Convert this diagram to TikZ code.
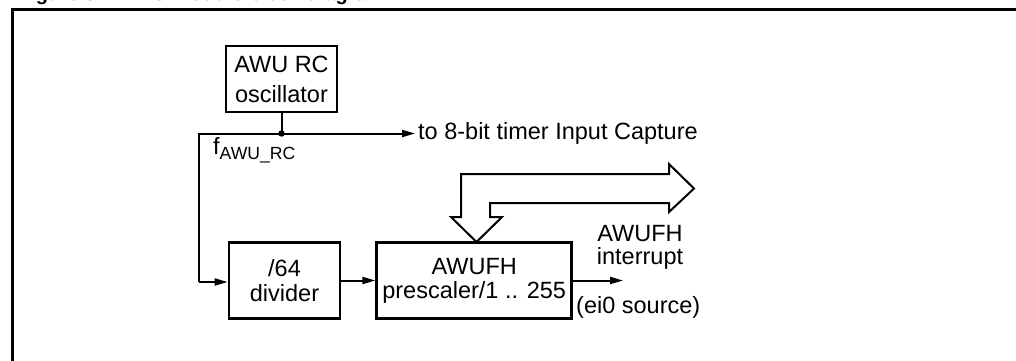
\documentclass[tikz,border=0pt]{standalone}
\usepackage{fontspec}
\setmainfont{Liberation Sans}
\usetikzlibrary{arrows.meta}
\tikzset{
  box/.style={draw, line width=2.6pt, inner sep=0pt, align=center},
  conn/.style={line width=2pt},
  arr/.style={line width=2pt, -{Triangle[length=13pt,width=7pt]}},
  lbl/.style={inner sep=0pt, align=center},
}
\begin{document}
\begin{tikzpicture}[x=1pt,y=-1pt]
\useasboundingbox (0,0) rectangle (1016,360);
\clip (0,0) rectangle (1016,360);
% cut-off caption
\node[inner sep=0pt, anchor=base west, font=\fontsize{20}{24}\selectfont\bfseries] (title) at (18,0.8) {Figure 37. AWU module block diagram};
% frame
\draw[line width=3pt] (12,370) -- (12,9) -- (1030,9);
% boxes
\node[box, minimum width=111pt, minimum height=66pt, font=\fontsize{23.5}{30}\selectfont] (osc) at (281.5,79)
  {AWU RC\\oscillator};
\node[box, minimum width=111pt, minimum height=75.6pt, font=\fontsize{23.5}{25.6}\selectfont] (div) at (284.5,280.5)
  {/64\\divider};
\node[box, minimum width=195pt, minimum height=75.6pt, font=\fontsize{23.5}{24}\selectfont] (pre) at (474.2,280.5)
  {AWUFH\\prescaler/1 .. 255};
% junction and wires
\coordinate (j) at (281.5,133.5);
\coordinate (c1) at (198.5,133.5);
\coordinate (c2) at (198.5,282);
\coordinate (ictip) at (415,133.5);
\coordinate (outtip) at (623,280.5);
\draw[conn] (osc.south) -- (j);
\draw[arr] (j) -- (ictip);
\draw[conn] (j) -- (c1) -- (c2);
\draw[arr] (c2) -- (div.west |- c2);
\draw[arr] (div.east) -- (pre.west);
\draw[arr] (pre.east) -- (outtip);
\fill (j) circle (3.2pt);
% labels
\node[lbl, anchor=base west, font=\fontsize{23.5}{28}\selectfont] (iclbl) at (418,139.5) {to 8-bit timer Input Capture};
\node[lbl, anchor=base west, font=\fontsize{23.5}{28}\selectfont] (flbl) at (213,154) {f\raisebox{-5.3pt}{\fontsize{17.6}{20}\selectfont AWU\_RC}};
\node[lbl, font=\fontsize{23.5}{23.3}\selectfont] (intlbl) at (640,247.4) {AWUFH\\interrupt};
\node[lbl, anchor=base west, font=\fontsize{23.5}{28}\selectfont] (srclbl) at (576,313.3) {(ei0 source)};
% bidirectional bus arrow
\draw[line width=2pt, line join=miter] (461,174) -- (669,174) -- (669,164) -- (694,188.5)
  -- (669,212) -- (669,203) -- (490,203) -- (490,217) -- (502,217)
  -- (476.5,242) -- (451,217) -- (461,217) -- cycle;
\end{tikzpicture}
\end{document}
